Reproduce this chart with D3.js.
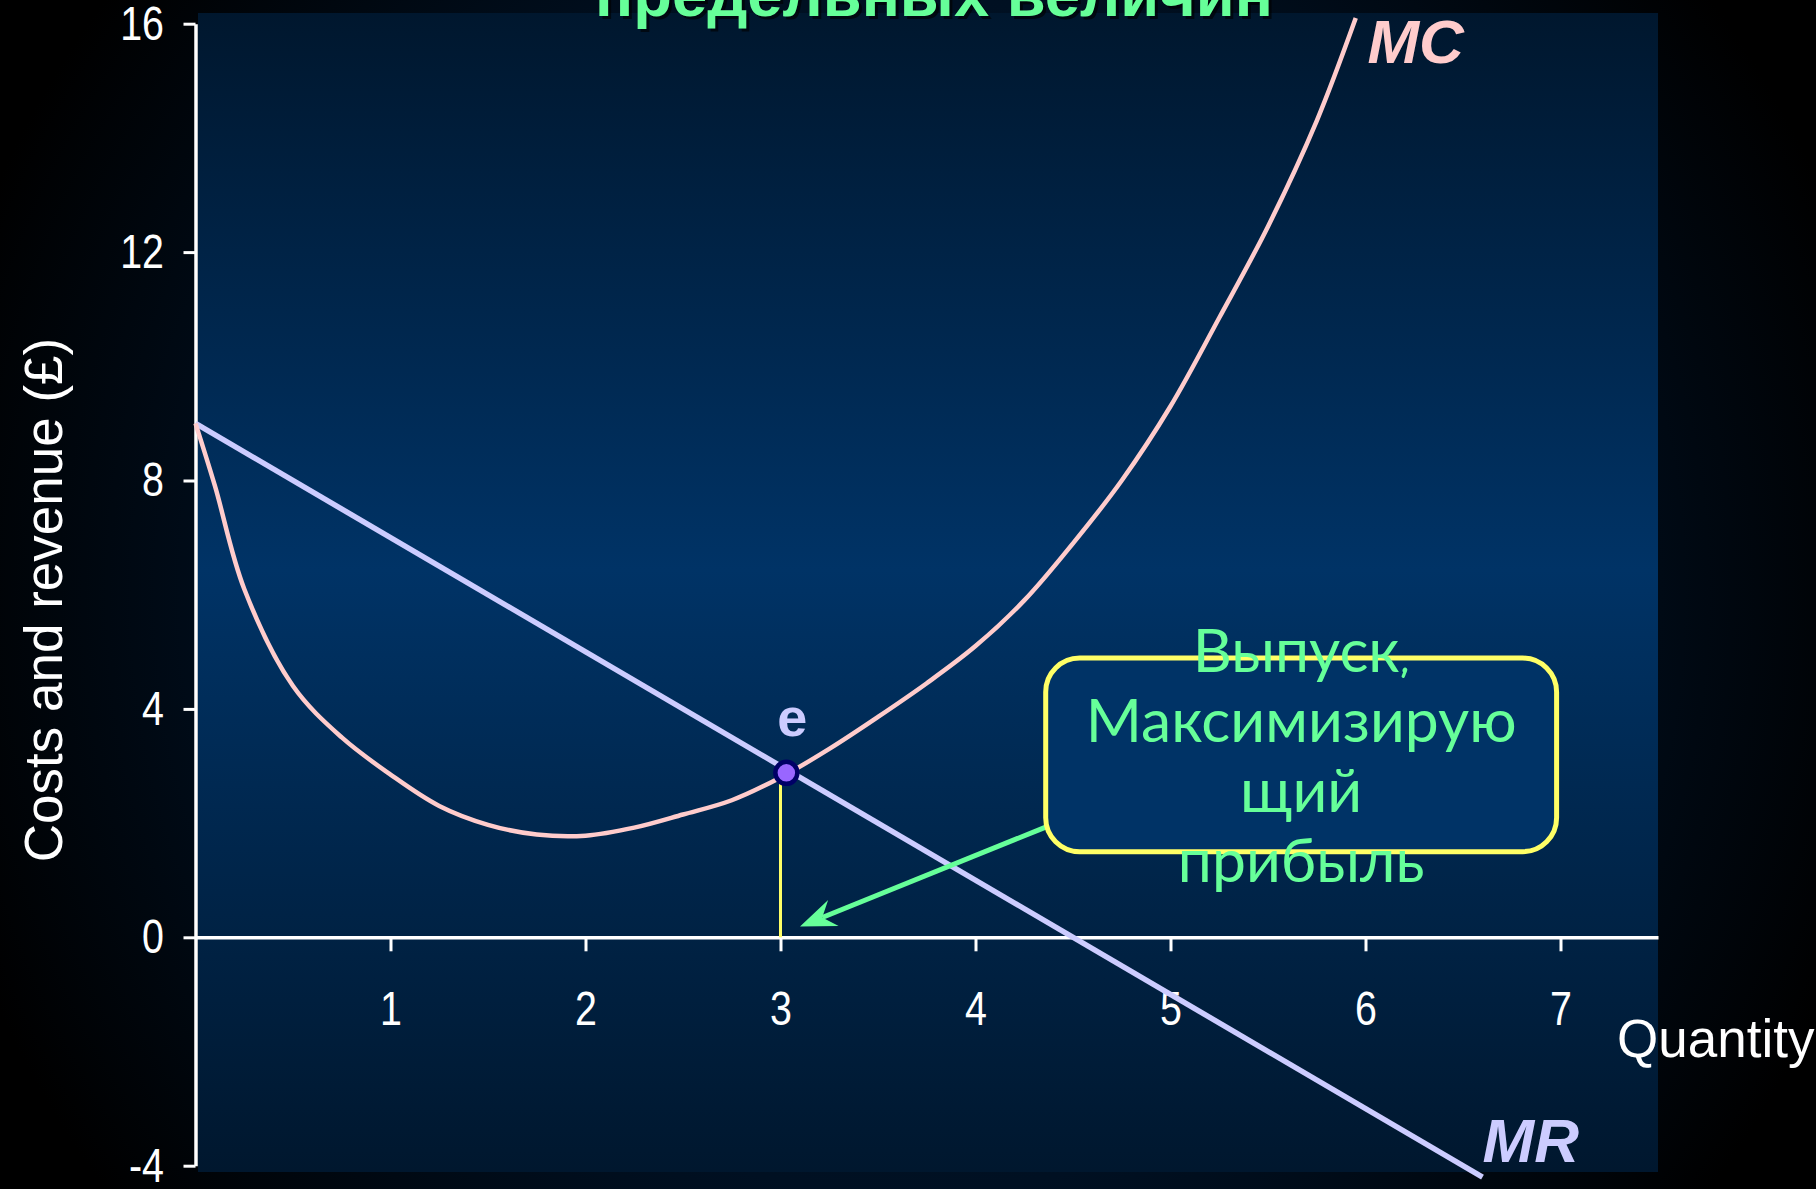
<!DOCTYPE html>
<html>
<head>
<meta charset="utf-8">
<script src="https://cdn.jsdelivr.net/npm/d3@7/dist/d3.min.js"></script>
<style>
  html, body { margin: 0; padding: 0; background: #000; overflow: hidden; }
  svg { display: block; }
</style>
</head>
<body>
<svg id="chart" width="1816" height="1189"></svg>
<script>
// ---------- data ----------
const titleText = "предельных величин";
const yAxisTitle = "Costs and revenue (£)";
const xAxisTitle = "Quantity";

const mcQuantity = [0, 0.1, 0.25, 0.5, 0.75, 1.0, 1.25, 1.5, 1.75, 2.0, 2.25, 2.5, 2.75, 3.0, 3.25, 3.5, 3.75, 4.0, 4.25, 4.5, 4.75, 5.0, 5.25, 5.5, 5.75, 5.95];
const mcValues   = [9.0, 7.9, 6.1, 4.4, 3.5, 2.85, 2.3, 1.97, 1.8, 1.78, 1.92, 2.15, 2.4, 2.8, 3.3, 3.86, 4.45, 5.1, 5.9, 6.9, 8.0, 9.3, 10.85, 12.45, 14.3, 16.1];

const mrQuantity = [0, 6.6];
const mrValues   = [9, -4.2];

const xTicks = [1, 2, 3, 4, 5, 6, 7];
const yTicks = [-4, 0, 4, 8, 12, 16];

const eqPoint = [3.03, 2.88];   // point e
const eqOutput = 3.0;           // profit-maximising output
const boxLines = ["Выпуск,", "Максимизирую", "щий", "прибыль"];
const boxRange = { x0: 4.36, x1: 6.98, y0: 4.89, y1: 1.5 };
const arrowFrom = [4.36, 1.93];
const arrowTo   = [3.1, 0.19];

// ---------- layout ----------
const W = 1816, H = 1189;
const svg = d3.select("#chart");
const defs = svg.append("defs");

const x = d3.scaleLinear().domain([0, 7.5]).range([195.5, 1658]);
const y = d3.scaleLinear().domain([-4, 16]).range([1165.7, 23.7]);

// outer background
const rg = defs.append("radialGradient").attr("id", "outer")
  .attr("gradientUnits", "userSpaceOnUse").attr("cx", W / 2).attr("cy", H / 2).attr("r", 1000);
rg.append("stop").attr("offset", "0").attr("stop-color", "#001a33");
rg.append("stop").attr("offset", "0.6").attr("stop-color", "#001022");
rg.append("stop").attr("offset", "1").attr("stop-color", "#000000");
svg.append("rect").attr("width", W).attr("height", H).attr("fill", "url(#outer)");

// panel gradient
const lg = defs.append("linearGradient").attr("id", "panel")
  .attr("x1", 0).attr("y1", 0).attr("x2", 0).attr("y2", 1);
lg.append("stop").attr("offset", "0").attr("stop-color", "#00172e");
lg.append("stop").attr("offset", "0.48").attr("stop-color", "#003366");
lg.append("stop").attr("offset", "1").attr("stop-color", "#00172e");
svg.append("rect")
  .attr("x", 198).attr("y", 13).attr("width", 1658 - 198).attr("height", 1172 - 13)
  .attr("fill", "url(#panel)");

// title (only its bottom visible, as in the source slide)
const tG = svg.append("g");
const tShadow = tG.append("text").attr("x", 934 + 3).attr("y", 16 + 3)
  .attr("text-anchor", "middle").attr("font-family", "Liberation Sans, Arial, sans-serif")
  .attr("font-weight", "bold").attr("fill", "#000").attr("opacity", 0.6).text(titleText);
const tText = tG.append("text").attr("x", 934).attr("y", 16)
  .attr("text-anchor", "middle").attr("font-family", "Liberation Sans, Arial, sans-serif")
  .attr("font-weight", "bold").attr("fill", "#66ff99").text(titleText);
tText.attr("font-size", 100);
const tw = tText.node().getComputedTextLength();
const tfs = 100 * 678 / tw;
tText.attr("font-size", tfs); tShadow.attr("font-size", tfs);

// axes
const fmt = d => String(d);
const yAxis = d3.axisLeft(y).tickValues(yTicks).tickFormat(fmt).tickSize(12).tickSizeOuter(0).tickPadding(19.5);
const yG = svg.append("g").attr("transform", `translate(${x(0)},0)`).call(yAxis);
const xAxis = d3.axisBottom(x).tickValues(xTicks).tickFormat(fmt).tickSize(14).tickSizeOuter(0).tickPadding(40);
const xG = svg.append("g").attr("transform", `translate(0,${y(0)})`).call(xAxis);
[yG, xG].forEach(g => {
  g.select(".domain").attr("stroke", "#ffffff").attr("stroke-width", 3.5);
  g.selectAll(".tick line").attr("stroke", "#ffffff").attr("stroke-width", 3);
  g.selectAll(".tick text").attr("fill", "#ffffff").attr("font-size", 48)
    .attr("font-family", "Liberation Sans, Arial, sans-serif")
    .attr("lengthAdjust", "spacingAndGlyphs")
    .attr("textLength", function () {
      // narrow (condensed) digits as in the source
      return this.getComputedTextLength() * 0.82;
    });
});

// axis titles
svg.append("text").attr("transform", `translate(62,600) rotate(-90)`)
  .attr("text-anchor", "middle").attr("font-family", "Liberation Sans, Arial, sans-serif")
  .attr("font-size", 53).attr("fill", "#ffffff").text(yAxisTitle);
svg.append("text").attr("x", 1617).attr("y", 1057)
  .attr("font-family", "Liberation Sans, Arial, sans-serif")
  .attr("font-size", 53).attr("fill", "#ffffff").text(xAxisTitle);

// MR line
const mrData = mrQuantity.map((q, i) => [q, mrValues[i]]);
svg.append("path").datum(mrData)
  .attr("d", d3.line().x(d => x(d[0])).y(d => y(d[1])))
  .attr("fill", "none").attr("stroke", "#ccccff").attr("stroke-width", 5.5);

// MC curve
const mcData = mcQuantity.map((q, i) => [q, mcValues[i]]);
svg.append("path").datum(mcData)
  .attr("d", d3.line().x(d => x(d[0])).y(d => y(d[1])).curve(d3.curveCatmullRom.alpha(0.5)))
  .attr("fill", "none").attr("stroke", "#ffcccc").attr("stroke-width", 4.5);

// curve labels
svg.append("text").attr("x", x(6.01)).attr("y", y(15.31))
  .attr("font-family", "Liberation Sans, Arial, sans-serif").attr("font-weight", "bold")
  .attr("font-style", "italic").attr("font-size", 62).attr("fill", "#ffcccc").text("MC");
svg.append("text").attr("x", x(6.6)).attr("y", y(-3.94))
  .attr("font-family", "Liberation Sans, Arial, sans-serif").attr("font-weight", "bold")
  .attr("font-style", "italic").attr("font-size", 62).attr("fill", "#ccccff").text("MR");

// output line
svg.append("line")
  .attr("x1", x(eqOutput)).attr("x2", x(eqOutput))
  .attr("y1", y(0)).attr("y2", y(eqPoint[1]))
  .attr("stroke", "#ffff66").attr("stroke-width", 3);

// point e
svg.append("circle").attr("cx", x(eqPoint[0])).attr("cy", y(eqPoint[1])).attr("r", 11)
  .attr("fill", "#9966ff").attr("stroke", "#000066").attr("stroke-width", 4.5);
svg.append("text").attr("x", x(eqPoint[0]) + 6).attr("y", y(eqPoint[1]) - 37)
  .attr("text-anchor", "middle").attr("font-family", "Liberation Sans, Arial, sans-serif")
  .attr("font-weight", "bold").attr("font-size", 54).attr("fill", "#ccccff").text("e");

// arrow
const ax0 = x(arrowFrom[0]), ay0 = y(arrowFrom[1]);
const ax1 = x(arrowTo[0]), ay1 = y(arrowTo[1]);
const dx = ax0 - ax1, dy = ay0 - ay1, len = Math.hypot(dx, dy);
const ux = dx / len, uy = dy / len, nx = -uy, ny = ux;
const headL = 36, headW = 14, notch = 24;
svg.append("line").attr("x1", ax0).attr("y1", ay0)
  .attr("x2", ax1 + ux * notch).attr("y2", ay1 + uy * notch)
  .attr("stroke", "#66ff99").attr("stroke-width", 5);
svg.append("path")
  .attr("d", `M${ax1},${ay1} L${ax1 + ux * headL + nx * headW},${ay1 + uy * headL + ny * headW} L${ax1 + ux * notch},${ay1 + uy * notch} L${ax1 + ux * headL - nx * headW},${ay1 + uy * headL - ny * headW} Z`)
  .attr("fill", "#66ff99");

// annotation box
svg.append("rect")
  .attr("x", x(boxRange.x0)).attr("y", y(boxRange.y0))
  .attr("width", x(boxRange.x1) - x(boxRange.x0)).attr("height", y(boxRange.y1) - y(boxRange.y0))
  .attr("rx", 34).attr("ry", 34)
  .attr("fill", "#003366").attr("stroke", "#ffff66").attr("stroke-width", 5);

const boxFont = "'Comic Sans MS', 'Comic Neue', Lato, 'Noto Sans', sans-serif";
const cx = (x(boxRange.x0) + x(boxRange.x1)) / 2;
const bt = svg.append("g");
const lineTexts = bt.selectAll("text").data(boxLines).join("text")
  .attr("x", cx).attr("y", (d, i) => y(4.65) + i * 70)
  .attr("text-anchor", "middle").attr("font-family", boxFont)
  .attr("font-size", 100).attr("fill", "#66ff99").text(d => d);
const w2 = lineTexts.filter((d, i) => i === 1).node().getComputedTextLength();
lineTexts.attr("font-size", 100 * 431 / w2);
</script>
</body>
</html>
